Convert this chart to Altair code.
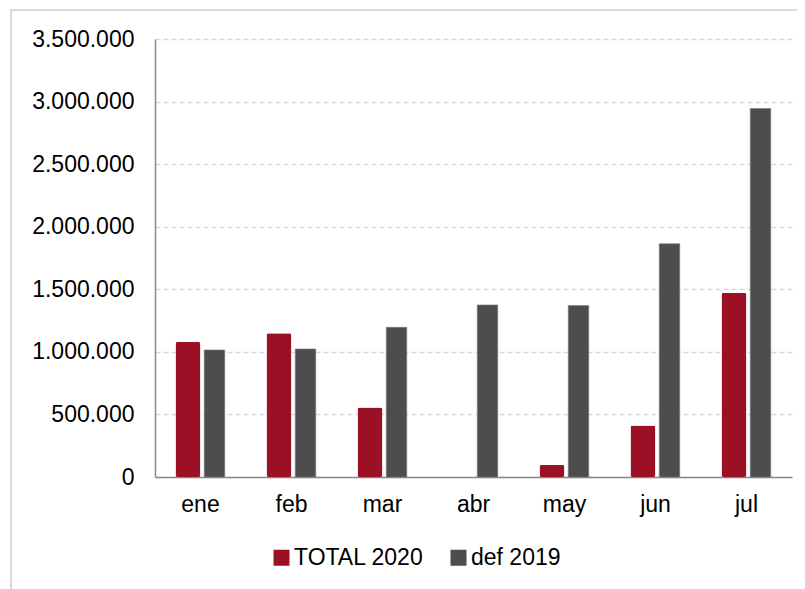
import altair as alt
import pandas as pd

months = ["ene", "feb", "mar", "abr", "may", "jun", "jul"]
total_2020 = [1078000, 1148000, 556000, 0, 96000, 411000, 1471000]
def_2019 = [1015000, 1023000, 1196000, 1375000, 1370000, 1864000, 2945000]
series = ["TOTAL 2020", "def 2019"]
colors = ["#9C1025", "#4D4D4D"]
y_ticks = [0, 500000, 1000000, 1500000, 2000000, 2500000, 3000000, 3500000]

rows = []
for m, a, b in zip(months, total_2020, def_2019):
    rows.append({"mes": m, "serie": series[0], "valor": a})
    rows.append({"mes": m, "serie": series[1], "valor": b})
df = pd.DataFrame(rows)

FONT = "Liberation Sans"

x_enc = alt.X("mes:N", sort=months, title=None,
              scale=alt.Scale(paddingInner=0, paddingOuter=0),
              axis=alt.Axis(labelAngle=0, ticks=False, grid=False, domain=True,
                            domainColor="#898989", domainWidth=1.5,
                            labelPadding=16, labelFontSize=23, labelFont=FONT,
                            labelColor="#000000"))
y_enc = alt.Y("valor:Q", title=None,
              scale=alt.Scale(domain=[0, 3500000], nice=False),
              axis=alt.Axis(values=y_ticks, ticks=False, grid=True,
                            gridColor="#D9D9D9", gridDash=[5, 3], gridWidth=1.5,
                            domain=True, domainColor="#898989", domainWidth=1.5,
                            labelPadding=21, labelFontSize=23, labelFont=FONT,
                            labelColor="#000000",
                            labelExpr="replace(replace(format(datum.value, ','), ',', '.'), ',', '.')"))
color_enc = alt.Color("serie:N", title=None,
                      scale=alt.Scale(domain=series, range=colors),
                      legend=alt.Legend(orient="none", legendX=115, legendY=507,
                                        direction="horizontal", symbolType="square",
                                        symbolSize=256, symbolStrokeWidth=0,
                                        labelFontSize=23, labelFont=FONT,
                                        labelColor="#000000", labelOffset=1,
                                        columnPadding=23))

base = alt.Chart(df)
red = base.transform_filter(alt.datum.serie == series[0]).mark_bar(
    size=25, xOffset=-12.5, cornerRadius=2
).encode(x=x_enc, y=y_enc, color=color_enc)
gray = base.transform_filter(alt.datum.serie == series[1]).mark_bar(
    size=20.5, xOffset=14, stroke="#7a7a7a", strokeWidth=0.6
).encode(x=x_enc, y=y_enc, color=color_enc)

frame = alt.Chart(pd.DataFrame({"a": [0]})).mark_rect(
    fill="white", fillOpacity=0, stroke="#D9D9D9", strokeWidth=2
).encode(x=alt.value(-144), x2=alt.value(700), y=alt.value(-29), y2=alt.value(640))

chart = alt.layer(frame, red, gray).properties(
    width=637, height=438,
    autosize=alt.AutoSizeParams(type="none"),
    padding={"left": 147, "top": 31, "right": 5, "bottom": 140},
).configure_view(stroke=None)

chart.save("out.html", embed_options={"renderer": "svg", "actions": False})
